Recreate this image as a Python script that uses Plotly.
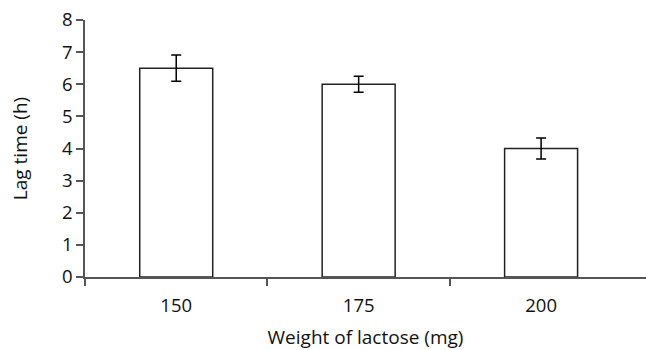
import plotly.graph_objects as go

categories = ["150", "175", "200"]
lag_time = [6.5, 6.0, 4.0]
error = [0.41, 0.25, 0.33]
y_ticks = [0, 1, 2, 3, 4, 5, 6, 7, 8]

FONT = "'Open Sans', sans-serif"
x_idx = list(range(len(categories)))

fig = go.Figure()
fig.add_trace(go.Bar(
    x=x_idx,
    y=lag_time,
    width=0.4,
    marker=dict(color="white", line=dict(color="#222222", width=1.5)),
    error_y=dict(type="data", array=error, visible=True, color="black", thickness=1.5, width=5),
))

fig.update_layout(
    width=646, height=350,
    margin=dict(l=85, r=0, t=20, b=73),
    paper_bgcolor="white", plot_bgcolor="white",
    showlegend=False,
    font=dict(family=FONT, size=18.5, color="#111111"),
    xaxis=dict(
        range=[-0.5, 2.575],
        tickmode="array", tickvals=x_idx, ticktext=categories,
        ticks="", ticklen=0,
        showline=True, linecolor="#555555", linewidth=1.5,
        showgrid=False, zeroline=False,
        ticklabelstandoff=11,
        minor=dict(tickmode="array", tickvals=[-0.5, 0.5, 1.5], ticks="outside",
                   ticklen=7, tickcolor="#555555", tickwidth=1.5, showgrid=False),
        title=dict(text="Weight of lactose (mg)", font=dict(size=19), standoff=17),
    ),
    yaxis=dict(
        range=[0, 8],
        tickmode="array", tickvals=y_ticks,
        ticks="outside", ticklen=7, tickcolor="#555555", tickwidth=1.5,
        showline=True, linecolor="#555555", linewidth=1.5,
        showgrid=False, zeroline=False,
        title=dict(text="Lag time (h)", font=dict(size=19), standoff=29),
    ),
)

fig.write_html("out.html")
